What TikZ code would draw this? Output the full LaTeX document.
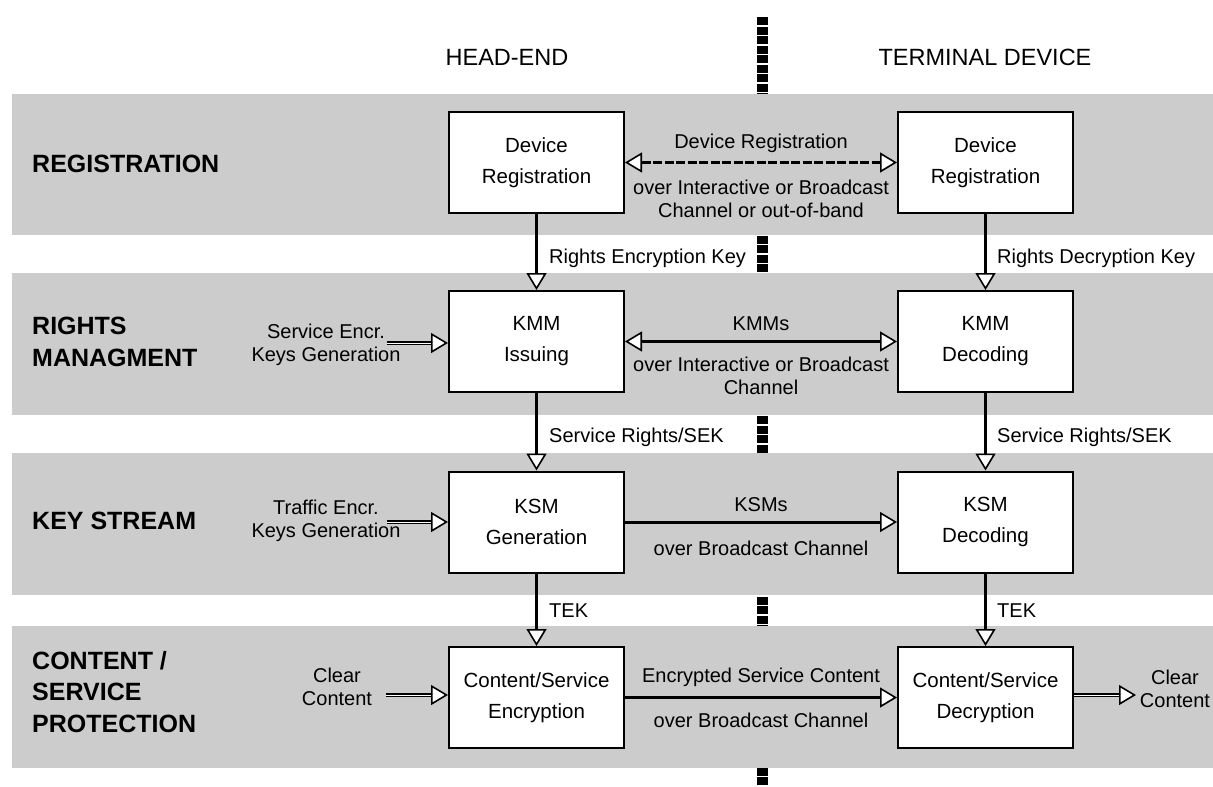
\documentclass[tikz,border=0pt]{standalone}
\usepackage{fontspec}
\setmainfont{Liberation Sans}
\usetikzlibrary{arrows.meta}
\definecolor{bandgray}{HTML}{CCCCCC}
\begin{document}
\begin{tikzpicture}[x=1pt,y=-1pt,
  box/.style={draw, line width=2pt, fill=white, minimum width=175pt, minimum height=101pt, align=center, inner sep=0, font=\fontsize{20.5}{31}\selectfont},
  lbl/.style={font=\fontsize{20}{23}\selectfont, align=center, inner sep=0},
  elbl/.style={font=\fontsize{20}{23}\selectfont, anchor=west, inner sep=0},
  rowlbl/.style={font=\bfseries\fontsize{25}{31.5}\selectfont, align=left, anchor=west, inner sep=0},
  ttl/.style={font=\fontsize{23.5}{28}\selectfont, inner sep=0},
  tip/.tip={Triangle[length=17pt,width=20pt,fill=white,line width=1.6pt]},
  conn/.style={line width=3pt, -tip},
  biconn/.style={line width=3pt, tip-tip},
  inconn/.style={double=white, double distance=0.9pt, line width=1.3pt, -tip}
]
\useasboundingbox (0,0) rectangle (1213,787);
% divider
\draw[line width=11pt, dash pattern=on 8pt off 1.5pt] (762,17) -- (762,787);
% bands
\fill[bandgray] (12,94) rectangle (1213,235);
\fill[bandgray] (12,273) rectangle (1213,415);
\fill[bandgray] (12,453) rectangle (1213,595);
\fill[bandgray] (12,626) rectangle (1213,768);
% titles
\node[ttl] (t1) at (507,57) {HEAD-END};
\node[ttl] (t2) at (985,57) {TERMINAL DEVICE};
% row labels
\node[rowlbl] (r1) at (32,164) {REGISTRATION};
\node[rowlbl] (r2) at (32,342) {RIGHTS\\MANAGMENT};
\node[rowlbl] (r3) at (32,521) {KEY STREAM};
\node[rowlbl] (r4) at (32,692) {CONTENT /\\SERVICE\\PROTECTION};
% boxes
\node[box] (l1) at (536.5,162.5) {Device\\Registration};
\node[box] (h1) at (985.5,162.5) {Device\\Registration};
\node[box] (l2) at (536.5,341.5) {KMM\\Issuing};
\node[box] (h2) at (985.5,341.5) {KMM\\Decoding};
\node[box] (l3) at (536.5,522) {KSM\\Generation};
\node[box] (h3) at (985.5,522) {KSM\\Decoding};
\node[box] (l4) at (536.5,697.5) {Content/Service\\Encryption};
\node[box] (h4) at (985.5,697.5) {Content/Service\\Decryption};
% vertical connectors
\draw[conn] (l1) -- (l2);
\draw[conn] (h1) -- (h2);
\draw[conn] (l2) -- (l3);
\draw[conn] (h2) -- (h3);
\draw[conn] (l3) -- (l4);
\draw[conn] (h3) -- (h4);
\node[elbl] (v1) at (549,258) {Rights Encryption Key};
\node[elbl] (v2) at (997,258) {Rights Decryption Key};
\node[elbl] (v3) at (549,437) {Service Rights/SEK};
\node[elbl] (v4) at (997,437) {Service Rights/SEK};
\node[elbl] (v5) at (549,611) {TEK};
\node[elbl] (v6) at (997,611) {TEK};
% horizontal connectors
\draw[biconn, dash pattern=on 9pt off 2.5pt] (l1) -- (h1);
\node[lbl] (a1) at (761,143) {Device Registration};
\node[lbl] (b1) at (761,198.5) {over Interactive or Broadcast\\Channel or out-of-band};
\draw[biconn] (l2) -- (h2);
\node[lbl] (a2) at (761,324) {KMMs};
\node[lbl] (b2) at (761,375.5) {over Interactive or Broadcast\\Channel};
\draw[conn] (l3) -- (h3);
\node[lbl] (a3) at (761,505) {KSMs};
\node[lbl] (b3) at (761,548) {over Broadcast Channel};
\draw[conn] (l4) -- (h4);
\node[lbl] (a4) at (761,677) {Encrypted Service Content};
\node[lbl] (b4) at (761,720) {over Broadcast Channel};
% inputs / outputs
\node[lbl] (i2) at (326,345) {Service Encr.\\Keys Generation};
\coordinate (c2) at (387,343);
\draw[inconn] (c2) -- (l2.west |- c2);
\node[lbl] (i3) at (326,521) {Traffic Encr.\\Keys Generation};
\coordinate (c3) at (387,522);
\draw[inconn] (c3) -- (l3.west |- c3);
\node[lbl] (i4) at (337,687) {Clear\\Content};
\coordinate (c4) at (386,695);
\draw[inconn] (c4) -- (l4.west |- c4);
\node[lbl] (o4) at (1175,689) {Clear\\Content};
\coordinate (c5) at (1136,695);
\draw[inconn] (h4.east |- c5) -- (c5);
\end{tikzpicture}
\end{document}
